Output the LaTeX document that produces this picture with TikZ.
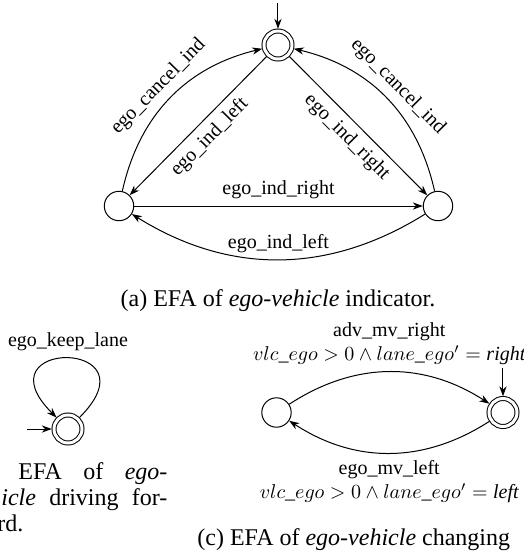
\documentclass[tikz,border=0pt]{standalone}
\usepackage[no-math]{fontspec}
\setmainfont{Liberation Serif}
\usetikzlibrary{arrows.meta}
\begin{document}
\begin{tikzpicture}[x=0.5pt,y=0.5pt,
  every node/.style={font=\fontsize{10}{12}\selectfont},
  st/.style={circle,draw,line width=0.5pt,minimum size=14.7pt,inner sep=0pt},
  acc/.style={circle,draw,line width=0.5pt,double,double distance=1.5pt,minimum size=14pt,inner sep=0pt,outer sep=1.1pt},
  tr/.style={-{Stealth[length=5pt,width=3.6pt,inset=1.6pt]},line width=0.5pt},
  captxt/.style={font=\fontsize{12}{14.4}\selectfont,inner sep=0pt}
]
\useasboundingbox (0,0) rectangle (524,-554);

% (a)
\node[acc] (T) at (278,-45) {};
\node[st] (L) at (119,-206) {};
\node[st] (R) at (438,-206) {};
\coordinate (T0) at (278,-3);
\draw[tr] (T0) -- (T);
\draw[tr] (L) -- node[above]{ego\_ind\_right} (R);
\draw[tr] (R) to[bend left=32] node[above]{ego\_ind\_left} (L);
\draw[tr] (L) to[bend left=32] node[above,sloped]{ego\_cancel\_ind} (T);
\draw[tr] (R) to[bend right=32] node[above,sloped]{ego\_cancel\_ind} (T);
\draw[tr] (T) -- node[below,sloped]{ego\_ind\_left} (L);
\draw[tr] (T) -- node[below,sloped]{ego\_ind\_right} (R);
\node[captxt,anchor=base] (capa) at (278,-306) {(a) EFA of \textit{ego-vehicle} indicator.};

% (b)
\node[acc] (B) at (68,-429) {};
\coordinate (B0) at (27,-429);
\draw[tr] (B0) -- (B);
\draw[tr] (B.45) .. controls +(45:112) and +(135:112) .. node[above]{ego\_keep\_lane} (B.135);
\node[captxt,anchor=base west] (capb1) at (18,-479) {\makebox[74.5pt][s]{EFA of \textit{ego-}}};
\node[captxt,anchor=base west] (capb2) at (1,-505.5) {\makebox[83pt][s]{\textit{icle} driving for-}};
\node[captxt,anchor=base west] (capb3) at (-3,-531) {rd.};

% (c)
\node[st] (C1) at (276.5,-412.5) {};
\node[acc] (C2) at (503,-412.5) {};
\coordinate (C0) at (503,-368);
\draw[tr] (C0) -- (C2);
\draw[tr] (C1) to[bend left=33] node[above,align=center]{adv\_mv\_right\\$vlc\_ego>0\land lane\_ego'=\textit{right}$} (C2);
\draw[tr] (C2) to[bend left=33] node[below,align=center]{ego\_mv\_left\\$vlc\_ego>0\land lane\_ego'=\textit{left}$} (C1);
\node[captxt,anchor=base west] (capc) at (197,-545) {(c) EFA of \textit{ego-vehicle} changing};
\end{tikzpicture}
\end{document}
